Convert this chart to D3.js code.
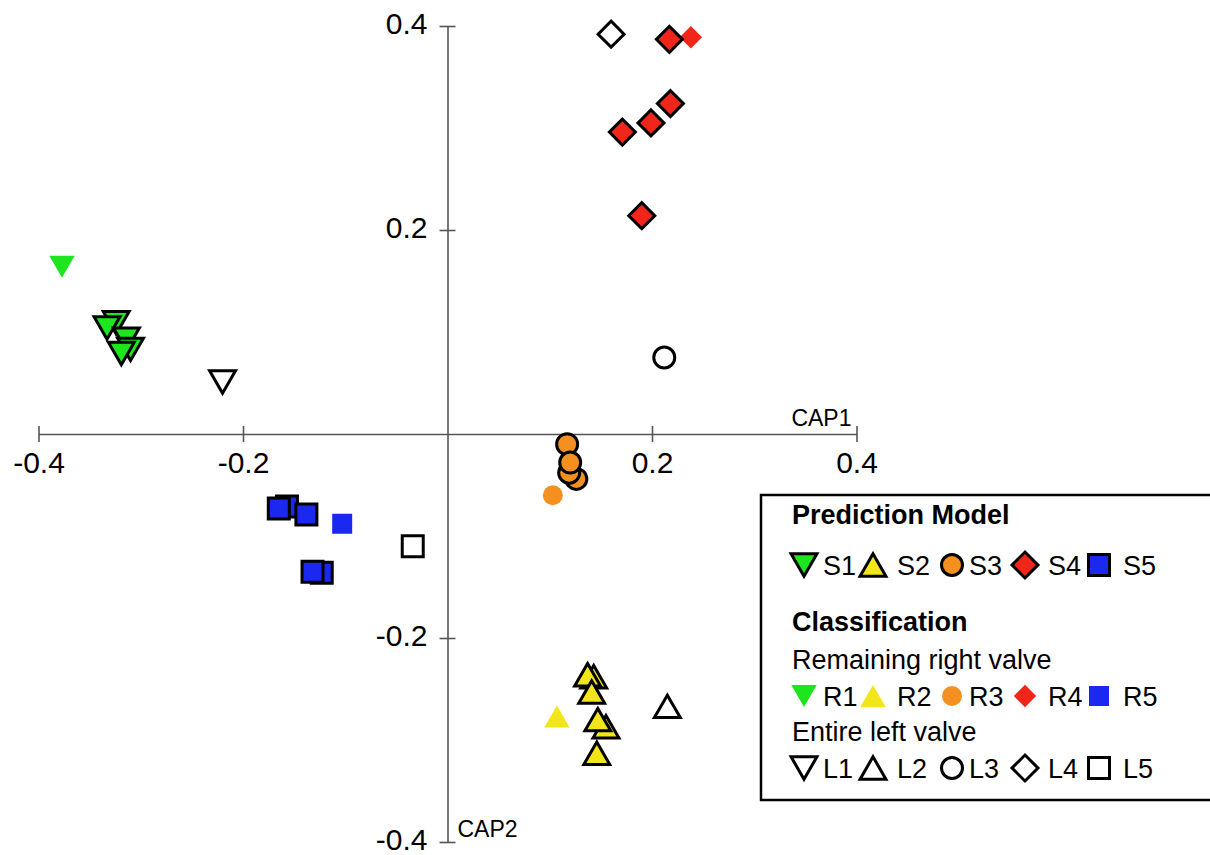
<!DOCTYPE html>
<html>
<head>
<meta charset="utf-8">
<script src="https://cdn.jsdelivr.net/npm/d3@7"></script>
<style>
  body { margin: 0; background: #fff; }
  svg { display: block; font-family: "Liberation Sans", Arial, sans-serif; }
</style>
</head>
<body>
<svg width="1210" height="855"></svg>
<script>
// CAP scores, [CAP1, CAP2]
const s1 = [[-0.324, 0.109], [-0.333, 0.104], [-0.314, 0.093], [-0.310, 0.083], [-0.319, 0.079]];
const s2 = [[0.143, -0.238], [0.137, -0.236], [0.141, -0.253], [0.155, -0.287], [0.147, -0.280], [0.146, -0.313]];
const s3 = [[0.126, -0.044], [0.119, -0.038], [0.117, -0.010], [0.120, -0.028]];
const s4 = [[0.217, 0.387], [0.218, 0.324], [0.199, 0.305], [0.171, 0.296], [0.190, 0.214]];
const s5 = [[-0.157, -0.071], [-0.165, -0.073], [-0.138, -0.079], [-0.123, -0.136], [-0.132, -0.135]];
const r1 = [[-0.377, 0.164]];
const r2 = [[0.107, -0.277]];
const r3 = [[0.103, -0.060]];
const r4 = [[0.238, 0.389]];
const r5 = [[-0.103, -0.088]];
const l1 = [[-0.220, 0.051]];
const l2 = [[0.215, -0.267]];
const l3 = [[0.212, 0.075]];
const l4 = [[0.160, 0.392]];
const l5 = [[-0.034, -0.110]];

const tickValues = [-0.4, -0.2, 0.2, 0.4];
const legendRows = [
  { labels: ["S1", "S2", "S3", "S4", "S5"], kind: "s" },
  { labels: ["R1", "R2", "R3", "R4", "R5"], kind: "r" },
  { labels: ["L1", "L2", "L3", "L4", "L5"], kind: "l" }
];

const shapes = ["down", "up", "circle", "diamond", "square"];
const colors = ["#1ee61e", "#f2e51a", "#f39020", "#f0261a", "#1a28f0"];

const svg = d3.select("svg");

const x = d3.scaleLinear().domain([-0.4, 0.4]).range([38.5, 856.5]);
const y = d3.scaleLinear().domain([-0.4, 0.4]).range([842, 26]);

// sizes (areas) for outlined and plain markers
const sizes = {
  outlined: { down: 290, up: 290, circle: 346, diamond: 338, square: 441 },
  plain: { down: 280, up: 280, circle: 314, diamond: 250, square: 400 }
};

function symbolPath(shape, size) {
  if (shape === "down" || shape === "up") return d3.symbol(d3.symbolTriangle, size)();
  if (shape === "circle") return d3.symbol(d3.symbolCircle, size)();
  return d3.symbol(d3.symbolSquare, size)();
}

function symbolTransform(shape, size, cx, cy) {
  if (shape === "up" || shape === "down") {
    const r = Math.sqrt(size / (3 * Math.sqrt(3)));
    if (shape === "up") return `translate(${cx},${cy + r / 2})`;
    return `translate(${cx},${cy - r / 2}) rotate(180)`;
  }
  if (shape === "diamond") return `translate(${cx},${cy}) rotate(45)`;
  return `translate(${cx},${cy})`;
}

function drawMarker(g, shape, kind, cx, cy) {
  const size = kind === "r" ? sizes.plain[shape] : sizes.outlined[shape];
  const i = shapes.indexOf(shape);
  g.append("path")
    .attr("d", symbolPath(shape, size))
    .attr("transform", symbolTransform(shape, size, cx, cy))
    .attr("fill", kind === "l" ? "#fff" : colors[i])
    .attr("stroke", kind === "r" ? "none" : "#000")
    .attr("stroke-width", 3);
}

// axes through the origin
const xAxis = svg.append("g")
  .attr("transform", `translate(0,${y(0)})`)
  .call(d3.axisBottom(x).tickValues(tickValues).tickSize(8).tickSizeOuter(0)
    .tickPadding(10).tickFormat(d => d.toFixed(1)));
xAxis.selectAll(".tick line").attr("y1", -8);

const yAxis = svg.append("g")
  .attr("transform", `translate(${x(0)},0)`)
  .call(d3.axisLeft(y).tickValues(tickValues).tickSize(8).tickSizeOuter(0)
    .tickPadding(12).tickFormat(d => d.toFixed(1)));
yAxis.selectAll(".tick line").attr("x1", 8);
yAxis.selectAll(".tick text").attr("dy", "0.25em");

svg.selectAll(".domain, .tick line").attr("stroke", "#555").attr("stroke-width", 1.6);
svg.selectAll(".tick text")
  .attr("font-family", "Liberation Sans, Arial, sans-serif")
  .attr("font-size", 30)
  .attr("fill", "#000");

svg.append("text")
  .attr("x", x(0.4) - 5).attr("y", y(0) - 8)
  .attr("text-anchor", "end")
  .attr("font-size", 23)
  .text("CAP1");

svg.append("text")
  .attr("x", x(0) + 10).attr("y", y(-0.4) - 5)
  .attr("font-size", 23)
  .text("CAP2");

// points: open ones first, then plain, then outlined
const plot = svg.append("g");
const groups = [
  [l1, "down", "l"], [l2, "up", "l"], [l3, "circle", "l"], [l4, "diamond", "l"], [l5, "square", "l"],
  [r1, "down", "r"], [r2, "up", "r"], [r3, "circle", "r"], [r4, "diamond", "r"], [r5, "square", "r"],
  [s1, "down", "s"], [s2, "up", "s"], [s3, "circle", "s"], [s4, "diamond", "s"], [s5, "square", "s"]
];
groups.forEach(([pts, shape, kind]) => {
  pts.forEach(p => drawMarker(plot, shape, kind, x(p[0]), y(p[1])));
});

// legend
const legend = svg.append("g");
legend.append("rect")
  .attr("x", 761).attr("y", 495)
  .attr("width", 480).attr("height", 305)
  .attr("fill", "#fff")
  .attr("stroke", "#000")
  .attr("stroke-width", 2.5);

const headings = [
  { text: "Prediction Model", y: 524, bold: true },
  { text: "Classification", y: 631, bold: true },
  { text: "Remaining right valve", y: 669, bold: false },
  { text: "Entire left valve", y: 741, bold: false }
];
headings.forEach(h => {
  legend.append("text")
    .attr("x", 792).attr("y", h.y)
    .attr("font-size", 27)
    .attr("font-weight", h.bold ? "bold" : "normal")
    .text(h.text);
});

const rowY = [565, 696, 768];
const symX = [804, 873, 952, 1025, 1099];
const labX = [823, 897, 969, 1048, 1123];
legendRows.forEach((row, ri) => {
  row.labels.forEach((lab, i) => {
    drawMarker(legend, shapes[i], row.kind, symX[i], rowY[ri]);
    legend.append("text")
      .attr("x", labX[i]).attr("y", rowY[ri] + 10)
      .attr("font-size", 27)
      .text(lab);
  });
});
</script>
</body>
</html>
